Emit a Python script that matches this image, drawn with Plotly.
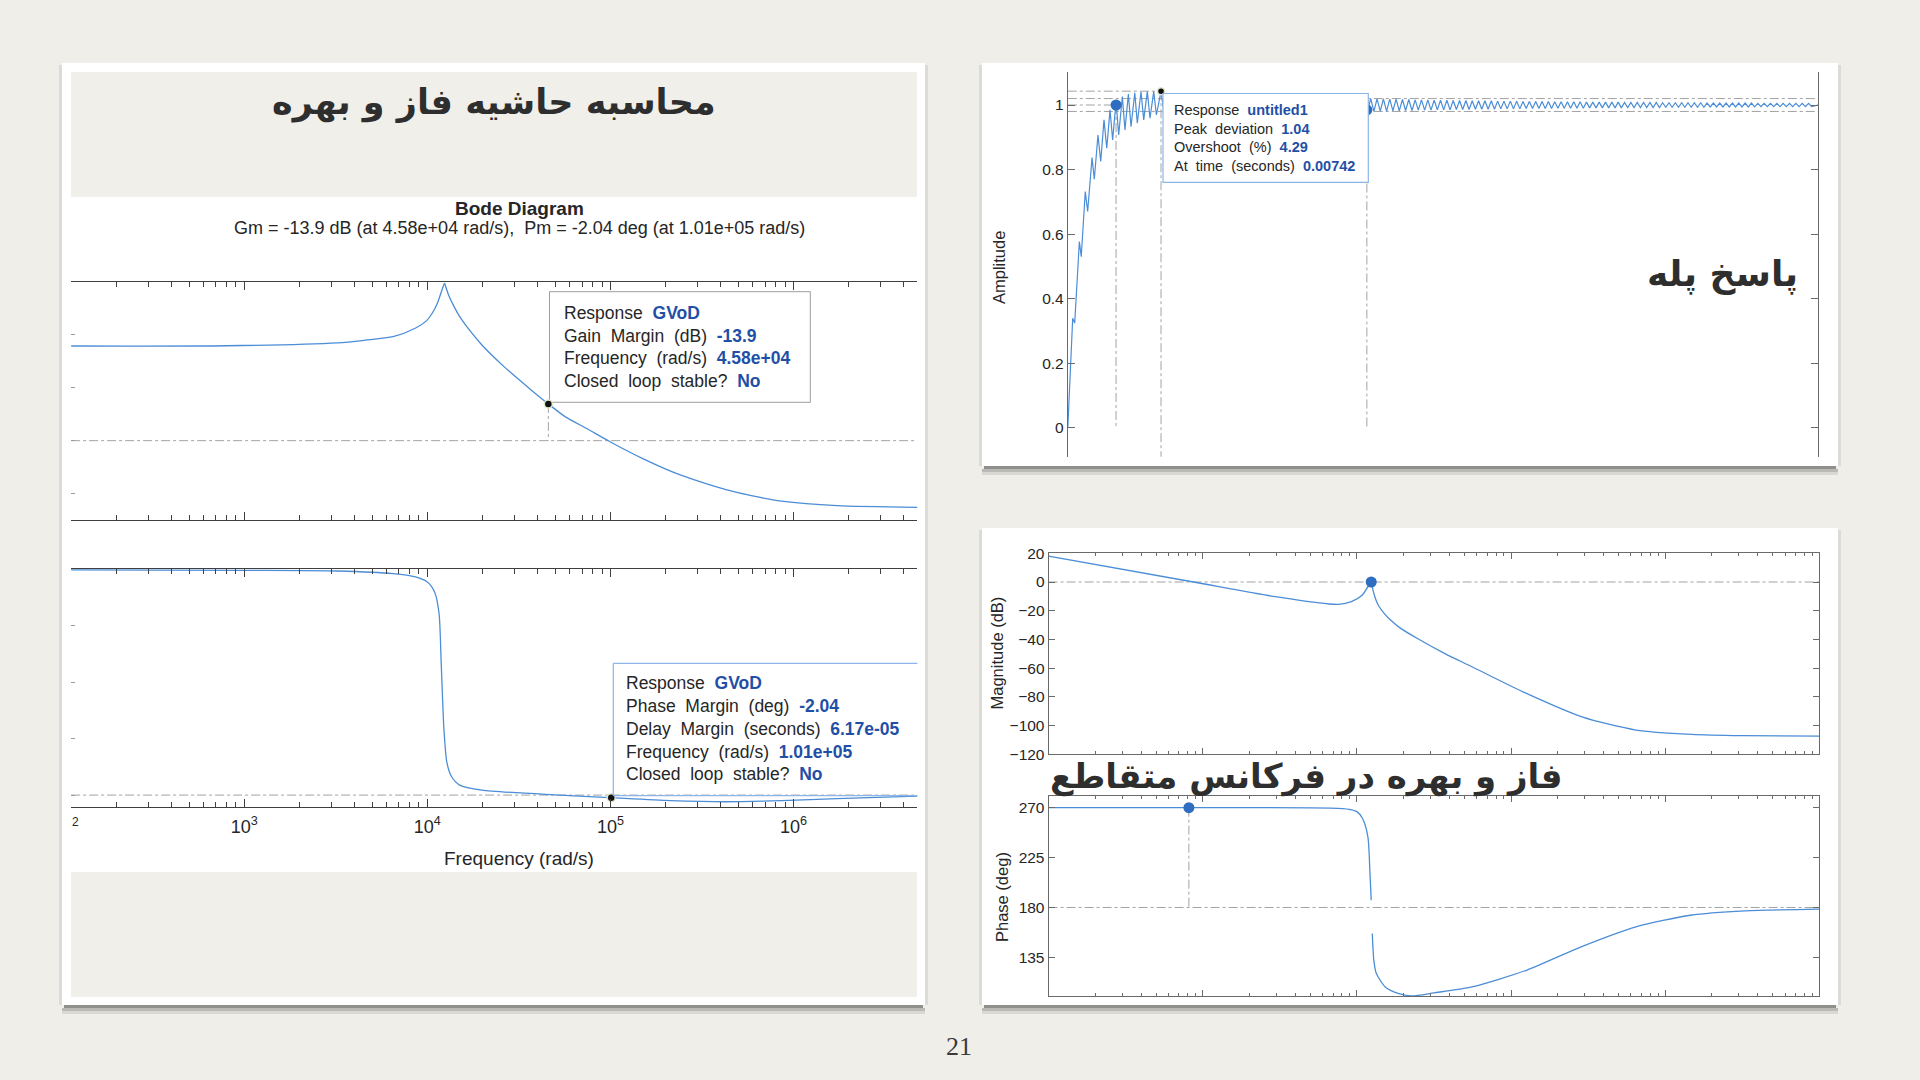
import plotly.graph_objects as go

W, H = 1920, 1080
def px(x): return x / W
def py(y): return 1 - y / H

# ======================= DATA =======================
# Left Bode diagram (GVoD) - magnitude, rising branch up to the resonance peak
gvod_mag_w_a = [113.5, 800, 3236, 4581, 6501, 8590, 9886, 10590, 11350, 12160, 12420]
gvod_mag_db_a = [35.8, 35.9, 37.0, 38.0, 39.3, 42.5, 45.3, 48.0, 52.0, 58.0, 59.6]
# falling branch after the resonance peak
gvod_mag_w_b = [12420, 13060, 14000, 15030, 17260, 19860, 26240, 37150, 45800, 56230, 74650,
                98860, 150300, 212800, 302000, 427600, 606700, 859000, 1726000, 4742000]
gvod_mag_db_b = [59.6, 55.1, 50.7, 46.9, 41.2, 36.2, 28.0, 19.0, 13.9, 9.2, 4.5,
                 -0.3, -6.8, -11.5, -15.3, -18.5, -21.0, -22.9, -24.6, -25.2]
# Left Bode diagram (GVoD) - phase
gvod_ph_w = [113.5, 1000, 3236, 6501, 8610, 10000, 10960, 11590, 11910, 12330, 12790, 13520,
             15030, 19860, 52720, 98860, 212800, 427600, 859000, 1726000, 4742000]
gvod_ph_deg = [-0.4, -0.8, -1.3, -3.4, -6.0, -10.0, -18.0, -35.0, -75.0, -128.0, -154.0, -165.0,
               -172.0, -176.0, -180.0, -182.0, -184.4, -185.3, -184.4, -182.8, -180.8]
gm_db, gm_w = -13.9, 4.58e4
pm_deg, pm_w = -2.04, 1.01e5
delay_margin = "6.17e-05"
left_xtick_vals = [1e3, 1e4, 1e5, 1e6]
left_xtick_text = ["10<sup>3</sup>", "10<sup>4</sup>", "10<sup>5</sup>", "10<sup>6</sup>"]

# Step response (untitled1)
step_t = [0, 0.00039, 0.00055, 0.00092, 0.00107, 0.00139, 0.00158, 0.00193, 0.00211, 0.00240,
          0.00262, 0.00288, 0.00310, 0.00336, 0.00357, 0.00384, 0.00405, 0.00434, 0.00455, 0.00482,
          0.00503, 0.00533, 0.00553, 0.00583, 0.00604, 0.00633, 0.00654, 0.00684, 0.00705, 0.00742,
          0.00767]
step_y = [0, 0.339, 0.324, 0.577, 0.530, 0.732, 0.670, 0.837, 0.770, 0.907,
          0.825, 0.954, 0.866, 0.985, 0.892, 1.011, 0.907, 1.026, 0.923, 1.034,
          0.933, 1.038, 0.944, 1.041, 0.954, 1.042, 0.959, 1.042, 0.969, 1.043,
          0.972]
tail_t0 = 0.0236          # start of the visible settling tail (s)
tail_period = 0.000505    # oscillation period (s)
tail_hi = [1.020, 1.020, 1.019, 1.019, 1.018, 1.018, 1.017, 1.017, 1.016, 1.016,
           1.016, 1.015, 1.015, 1.015, 1.014, 1.014, 1.014, 1.013, 1.013, 1.013,
           1.013, 1.012, 1.012, 1.012, 1.012, 1.011, 1.011, 1.011, 1.011, 1.011,
           1.010, 1.010, 1.010, 1.010, 1.010, 1.009, 1.009, 1.009, 1.009, 1.009,
           1.009, 1.008, 1.008, 1.008, 1.008, 1.008, 1.008, 1.007, 1.007, 1.007,
           1.007, 1.007, 1.007, 1.007, 1.006, 1.006, 1.006, 1.006, 1.006, 1.006,
           1.006, 1.006, 1.005, 1.005, 1.005, 1.005, 1.005, 1.005, 1.005, 1.005, 1.005]
tail_lo = [0.980, 0.980, 0.981, 0.981, 0.982, 0.982, 0.983, 0.983, 0.984, 0.984,
           0.984, 0.985, 0.985, 0.985, 0.986, 0.986, 0.986, 0.987, 0.987, 0.987,
           0.987, 0.988, 0.988, 0.988, 0.988, 0.989, 0.989, 0.989, 0.989, 0.989,
           0.990, 0.990, 0.990, 0.990, 0.990, 0.991, 0.991, 0.991, 0.991, 0.991,
           0.991, 0.992, 0.992, 0.992, 0.992, 0.992, 0.992, 0.993, 0.993, 0.993,
           0.993, 0.993, 0.993, 0.993, 0.994, 0.994, 0.994, 0.994, 0.994, 0.994,
           0.994, 0.994, 0.995, 0.995, 0.995, 0.995, 0.995, 0.995, 0.995, 0.995, 0.995]
peak_amp, peak_t, overshoot_pct = 1.04, 0.00742, 4.29
rise_t, rise_amp = 0.00384, 1.0
settle_t, settle_amp, settle_band = 0.0238, 0.985, 0.02
step_t_end = 0.0597
step_ytick_vals = [0, 0.2, 0.4, 0.6, 0.8, 1]
step_ytick_text = ["0", "0.2", "0.4", "0.6", "0.8", "1"]

# Right Bode diagram - magnitude (branch before / after the resonance peak)
rb_mag_w_a = [100, 871, 2951, 6607, 7586, 9204, 10860, 11780, 12390]
rb_mag_db_a = [18.1, 0.0, -10.2, -15.3, -15.6, -13.7, -9.0, -3.3, -0.3]
rb_mag_w_b = [12390, 12790, 13300, 13870, 15030, 16330, 19230, 24550, 36980, 55720, 125900,
              288400, 645700, 1479000, 3162000, 10000000]
rb_mag_db_b = [-0.3, -6.7, -12.5, -16.7, -21.8, -26.0, -32.3, -39.2, -49.7, -59.0, -77.6,
               -93.9, -103.1, -106.1, -107.0, -107.3]
# Right Bode diagram - phase (two branches, the trace is broken at resonance)
rb_ph_w1 = [100, 1000, 6761, 8913, 10000, 10860, 11780, 12160, 12390]
rb_ph_deg1 = [270.0, 270.0, 269.6, 268.5, 266.4, 260.4, 243.9, 210.9, 186.6]
rb_ph_w2 = [12590, 12880, 13340, 15280, 18750, 22700, 31620, 55720, 125900, 285100,
            645700, 1462000, 3311000, 10000000]
rb_ph_deg2 = [156.6, 132.6, 121.0, 108.4, 102.4, 100.3, 103.0, 108.4, 123.4, 144.5,
              162.5, 173.0, 176.9, 178.5]
rb_cross_w, rb_cross_db = 12390, 0.0
rb_ph_mark_w, rb_ph_mark_deg = 813, 270.0
rb_mag_ticks = [-120, -100, -80, -60, -40, -20, 0, 20]
rb_ph_ticks = [135, 180, 225, 270]

# ======================= STYLE =======================
BLUE = "#4b8dd6"
DOT_BLUE = "#2f6dc0"
VAL = "#1f50a6"
TXT = "#262626"
AXD = "#3f3f3f"
AXG = "#6a6a6a"
GUIDE = "#a3a3a3"
SANS = "Liberation Sans"
ARAB = "DejaVu Sans"

fig = go.Figure()

def line(x, y, xa, ya, color=BLUE, width=1.3, dash=None, shape="linear"):
    fig.add_trace(go.Scatter(x=x, y=y, xaxis=xa, yaxis=ya, mode="lines",
                             line=dict(color=color, width=width, dash=dash, shape=shape,
                                       smoothing=0.7 if shape == "spline" else None),
                             hoverinfo="skip", connectgaps=False))

def dot(x, y, xa, ya, color, size, lcolor=None, lwidth=0):
    fig.add_trace(go.Scatter(x=x, y=y, xaxis=xa, yaxis=ya, mode="markers",
                             marker=dict(color=color, size=size,
                                         line=dict(color=lcolor or color, width=lwidth)),
                             hoverinfo="skip"))

# ---- left magnitude ----
line([gvod_mag_w_a[0], gvod_mag_w_b[-1]], [0, 0], "x", "y", GUIDE, 1, "dashdot")
line([gm_w, gm_w], [-gm_db, 0], "x", "y", GUIDE, 1, "dashdot")
line(gvod_mag_w_a, gvod_mag_db_a, "x", "y", shape="spline")
line(gvod_mag_w_b, gvod_mag_db_b, "x", "y", shape="spline")
dot([gm_w], [-gm_db], "x", "y", "#111111", 8, "#dfe8cf", 1.5)

# ---- left phase ----
line([gvod_ph_w[0], gvod_ph_w[-1]], [-180, -180], "x2", "y2", GUIDE, 1, "dashdot")
line(gvod_ph_w, gvod_ph_deg, "x2", "y2", shape="spline")
dot([pm_w], [-180 + pm_deg], "x2", "y2", "#111111", 8, "#dfe8cf", 1.5)

# ---- step response ----
pk = 1 + overshoot_pct / 100
line([0, step_t_end], [1 + settle_band] * 2, "x3", "y3", GUIDE, 1, "dashdot")
line([0, step_t_end], [1 - settle_band] * 2, "x3", "y3", GUIDE, 1, "dashdot")
line([0, peak_t], [pk, pk], "x3", "y3", GUIDE, 1, "dashdot")
line([peak_t, peak_t], [pk, -0.1], "x3", "y3", GUIDE, 1, "dashdot")
line([0, rise_t], [rise_amp, rise_amp], "x3", "y3", GUIDE, 1, "dashdot")
line([rise_t, rise_t], [rise_amp, 0], "x3", "y3", GUIDE, 1, "dashdot")
line([settle_t, settle_t], [1 - settle_band, 0], "x3", "y3", GUIDE, 1, "dashdot")
tt, yy = list(step_t), list(step_y)
for k, (hi, lo) in enumerate(zip(tail_hi, tail_lo)):
    tt += [tail_t0 + k * tail_period, tail_t0 + (k + 0.5) * tail_period]
    yy += [hi, lo]
tt.append(step_t_end)
yy.append(1.0)
line(tt, yy, "x3", "y3", BLUE, 1.2)
dot([rise_t], [rise_amp], "x3", "y3", DOT_BLUE, 11)
dot([settle_t], [settle_amp], "x3", "y3", DOT_BLUE, 11)
dot([peak_t], [pk], "x3", "y3", "#111111", 7, "#dfe8cf", 1.5)

# ---- right bode ----
line([rb_mag_w_a[0], rb_mag_w_b[-1]], [0, 0], "x4", "y4", GUIDE, 1, "dashdot")
line(rb_mag_w_a, rb_mag_db_a, "x4", "y4", shape="spline")
line(rb_mag_w_b, rb_mag_db_b, "x4", "y4", shape="spline")
dot([rb_cross_w], [rb_cross_db], "x4", "y4", DOT_BLUE, 11)
line([rb_ph_w1[0], rb_ph_w2[-1]], [180, 180], "x5", "y5", GUIDE, 1, "dashdot")
line([rb_ph_mark_w, rb_ph_mark_w], [rb_ph_mark_deg, 180], "x5", "y5", GUIDE, 1, "dashdot")
line(rb_ph_w1, rb_ph_deg1, "x5", "y5", shape="spline")
line(rb_ph_w2, rb_ph_deg2, "x5", "y5", shape="spline")
dot([rb_ph_mark_w], [rb_ph_mark_deg], "x5", "y5", DOT_BLUE, 11)

# ======================= AXES =======================
def minor_vals(e0, e1):
    return [m * 10 ** e for e in range(e0, e1) for m in range(2, 10)]

def logx(dom, rng, anchor, color, labels=False, tl=8, ml=5):
    d = dict(type="log", range=rng, domain=dom, anchor=anchor, showline=True,
             linecolor=color, linewidth=1, mirror="allticks", ticks="inside",
             ticklen=tl, tickcolor=color, tickmode="array", automargin=False,
             showgrid=False, zeroline=False,
             minor=dict(tickmode="array", tickvals=minor_vals(1, 7), ticks="inside",
                        ticklen=ml, tickcolor=color, showgrid=False))
    if labels:
        d.update(tickvals=left_xtick_vals, ticktext=left_xtick_text, showticklabels=True,
                 tickfont=dict(family=SANS, size=18, color=TXT), ticklabelstandoff=3)
    else:
        d.update(tickvals=[1e1, 1e2, 1e3, 1e4, 1e5, 1e6, 1e7], showticklabels=False)
    return d

LX = [px(71.1), px(917.4)]
RX = [px(1048.6), px(1819.3)]

fig.update_layout(
    xaxis=logx(LX, [2.055, 6.676], "y", AXD),
    yaxis=dict(domain=[py(520), py(282)], range=[-30, 60], anchor="x", showline=False,
               ticks="inside", ticklen=4, tickcolor="#9a9a9a", tickvals=[-20, 0, 20, 40],
               showticklabels=False, showgrid=False, zeroline=False, automargin=False),
    xaxis2=logx(LX, [2.055, 6.676], "y2", AXD, labels=True),
    yaxis2=dict(domain=[py(807), py(569)], range=[-189.5, 0.3], anchor="x2", showline=False,
                ticks="inside", ticklen=4, tickcolor="#9a9a9a", tickvals=[-180, -135, -90, -45],
                showticklabels=False, showgrid=False, zeroline=False, automargin=False),
    xaxis3=dict(domain=[px(1067.8), px(1818)], range=[0, step_t_end], anchor="y3",
                visible=False, automargin=False),
    yaxis3=dict(domain=[py(456.7), py(71.7)], range=[-0.0899, 1.1032], anchor="x3",
                showline=True, linecolor=AXG, linewidth=1, mirror="ticks",
                ticks="inside", ticklen=7, tickcolor=AXG, tickmode="array",
                tickvals=step_ytick_vals, ticktext=step_ytick_text,
                tickfont=dict(family=SANS, size=15.5, color=TXT),
                showgrid=False, zeroline=False, automargin=False),
    xaxis4=logx(RX, [2, 7], "y4", AXG, tl=6, ml=3),
    yaxis4=dict(domain=[py(754.3), py(553.3)], range=[-120, 20], anchor="x4",
                showline=True, linecolor=AXG, linewidth=1, mirror="ticks",
                ticks="inside", ticklen=6, tickcolor=AXG, tickmode="array",
                tickvals=rb_mag_ticks, tickfont=dict(family=SANS, size=15.5, color=TXT),
                showgrid=False, zeroline=False, automargin=False),
    xaxis5=logx(RX, [2, 7], "y5", AXG, tl=6, ml=3),
    yaxis5=dict(domain=[py(996), py(796)], range=[100.2, 280.5], anchor="x5",
                showline=True, linecolor=AXG, linewidth=1, mirror="ticks",
                ticks="inside", ticklen=6, tickcolor=AXG, tickmode="array",
                tickvals=rb_ph_ticks, tickfont=dict(family=SANS, size=15.5, color=TXT),
                showgrid=False, zeroline=False, automargin=False),
)

# ======================= SHAPES =======================
shapes = []
def rect(x0, y0, x1, y1, fill, lc=None, lw=0, layer="below"):
    shapes.append(dict(type="rect", xref="paper", yref="paper", x0=px(x0), x1=px(x1),
                       y0=py(y1), y1=py(y0), fillcolor=fill, layer=layer,
                       line=dict(color=lc or "rgba(0,0,0,0)", width=lw)))
def seg(x0, y0, x1, y1, color, w=1, layer="above"):
    shapes.append(dict(type="line", xref="paper", yref="paper", x0=px(x0), x1=px(x1),
                       y0=py(y0), y1=py(y1), layer=layer, line=dict(color=color, width=w)))

# card shadows
for (x0, x1, yb) in [(62, 925, 1005), (982, 1838, 466), (982, 1838, 1005)]:
    rect(x0 + 2, yb, x1 - 2, yb + 3, "rgba(0,0,0,0.40)")
    rect(x0, yb + 3, x1, yb + 6, "rgba(0,0,0,0.22)")
    rect(x0, yb + 6, x1, yb + 9, "rgba(0,0,0,0.09)")
# side shading
for (x0, x1, y0, y1) in [(62, 925, 63, 1005), (982, 1838, 63, 466), (982, 1838, 528, 1005)]:
    rect(x0 - 3, y0 + 2, x0, y1, "rgba(0,0,0,0.08)")
    rect(x1, y0 + 2, x1 + 3, y1, "rgba(0,0,0,0.08)")
# cards
rect(62, 63, 925, 1005, "#ffffff")
rect(982, 63, 1838, 466, "#ffffff")
rect(982, 528, 1838, 1005, "#ffffff")
# inset grey areas in left card
rect(71, 72, 917, 197, "#f0efea")
rect(71, 872, 917, 997, "#f0efea")

# datatip boxes
rect(549.5, 291.7, 810.3, 402.3, "#ffffff", "#9d9d9d", 1, "below")
rect(613.3, 663.3, 917.4, 795.7, "#ffffff", None, 0, "below")
seg(613.3, 663.3, 917.4, 663.3, "#8cb6e8", 1.2)
seg(613.3, 663.3, 613.3, 795.7, "#8cb6e8", 1.2)
seg(613.3, 795.7, 917.4, 795.7, "#8cb6e8", 1.2)
rect(1163, 93.5, 1368.3, 182.3, "#ffffff", "#8cb6e8", 1.2, "above")

fig.update_layout(shapes=shapes)

# ======================= TEXT =======================
ann = []
def text(s, x, y, size, color=TXT, family=SANS, xa="center", ya="middle", angle=0):
    ann.append(dict(text=s, x=px(x), y=py(y), xref="paper", yref="paper", showarrow=False,
                    xanchor=xa, yanchor=ya, textangle=angle,
                    font=dict(family=family, size=size, color=color)))

sp = "\u00a0 "
def tip(label, value):
    return f"{label}{sp}<span style='color:{VAL}'><b>{value}</b></span>"

# left card
text("<b>محاسبه حاشیه فاز و بهره</b>", 494, 103, 35, "#2e2e2e", ARAB)
text("<b>Bode Diagram</b>", 519, 208, 19)
text("Gm = -13.9 dB (at 4.58e+04 rad/s),  Pm = -2.04 deg (at 1.01e+05 rad/s)", 519, 228, 18)
text("Frequency (rad/s)", 519, 858, 19)
text("2", 69.5, 822, 12, xa="left")
for i, s in enumerate([tip("Response", "GVoD"),
                       tip(f"Gain{sp}Margin{sp}(dB)", f"{gm_db}"),
                       tip(f"Frequency{sp}(rad/s)", f"{gm_w:.2e}"),
                       tip(f"Closed{sp}loop{sp}stable?", "No")]):
    text(s, 562, 313.3 + i * 22.6, 17.5, xa="left")
for i, s in enumerate([tip("Response", "GVoD"),
                       tip(f"Phase{sp}Margin{sp}(deg)", f"{pm_deg}"),
                       tip(f"Delay{sp}Margin{sp}(seconds)", delay_margin),
                       tip(f"Frequency{sp}(rad/s)", f"{pm_w:.2e}"),
                       tip(f"Closed{sp}loop{sp}stable?", "No")]):
    text(s, 624.4, 683.3 + i * 22.75, 17.5, xa="left")

# step card
text("Amplitude", 999, 267, 16.5, angle=-90)
text("<b>پاسخ پله</b>", 1722, 274, 36, "#2e2e2e", ARAB)
for i, s in enumerate([tip("Response", "untitled1"),
                       tip(f"Peak{sp}deviation", f"{peak_amp}"),
                       tip(f"Overshoot{sp}(%)", f"{overshoot_pct}"),
                       tip(f"At{sp}time{sp}(seconds)", f"{peak_t}")]):
    text(s, 1171.7, 110 + i * 18.7, 14.5, xa="left")

# right bode card
text("Magnitude (dB)", 996.5, 653, 16.5, angle=-90)
text("Phase (deg)", 1002, 897, 16.5, angle=-90)
text("<b>فاز و بهره در فرکانس متقاطع</b>", 1306, 776, 34, "#2e2e2e", ARAB)

# page number
text("21", 959, 1046, 26, "#3a3a3a", "Liberation Serif")

fig.update_layout(annotations=ann)

fig.update_layout(width=W, height=H,
                  margin=dict(l=0, r=0, t=0, b=0, pad=0, autoexpand=False),
                  paper_bgcolor="#efeee9", plot_bgcolor="rgba(0,0,0,0)",
                  showlegend=False, font=dict(family=SANS))

fig.write_html("out.html")
